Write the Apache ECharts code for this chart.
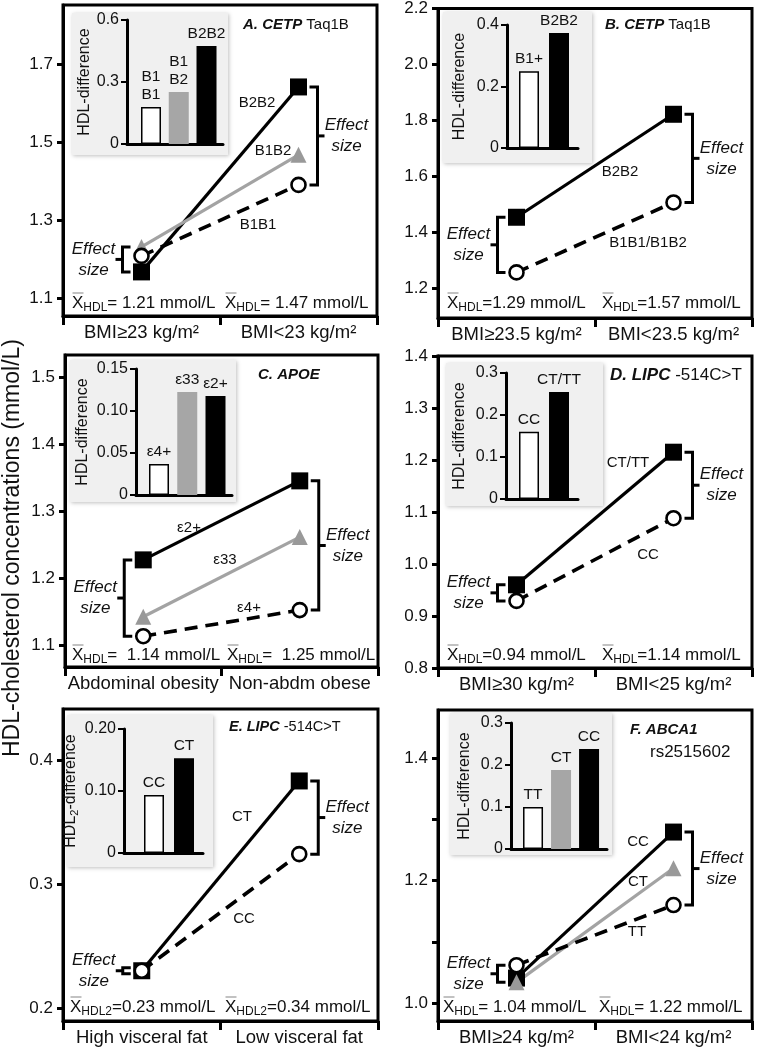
<!DOCTYPE html>
<html><head><meta charset="utf-8">
<script src="https://cdn.jsdelivr.net/npm/echarts@6/dist/echarts.min.js"></script>
<style>html,body{margin:0;padding:0;background:#fff}#c{width:757px;height:1050px}</style>
</head><body><div id="c"></div>
<script>
// ---------------- DATA ----------------
const catsA = ['BMI\u226523 kg/m\u00b2', 'BMI<23 kg/m\u00b2'];
const aB2B2 = [1.167, 1.641];
const aB1B2 = [1.231, 1.467];
const aB1B1 = [1.208, 1.390];
const aLineLabels = ['B2B2', 'B1B2', 'B1B1'];
const aInsetCats = ['B1\nB1', 'B1\nB2', 'B2B2'];
const aInsetVals = [0.179, 0.252, 0.474];
const aYTicks = [1.1, 1.3, 1.5, 1.7];
const aInsetTicks = [0, 0.3, 0.6];
const aMeans = ['= 1.21 mmol/L', '= 1.47 mmol/L'];

const catsB = ['BMI\u226523.5 kg/m\u00b2', 'BMI<23.5 kg/m\u00b2'];
const bB2B2 = [1.454, 1.822];
const bB1x = [1.257, 1.507];
const bLineLabels = ['B2B2', 'B1B1/B1B2'];
const bInsetCats = ['B1+', 'B2B2'];
const bInsetVals = [0.25, 0.374];
const bYTicks = [1.2, 1.4, 1.6, 1.8, 2.0, 2.2];
const bInsetTicks = [0, 0.2, 0.4];
const bMeans = ['=1.29 mmol/L', '=1.57 mmol/L'];

const catsC = ['Abdominal obesity', 'Non-abdm obese'];
const cE2 = [1.227, 1.345];
const cE33 = [1.142, 1.261];
const cE4 = [1.113, 1.152];
const cLineLabels = ['\u03b52+', '\u03b533', '\u03b54+'];
const cInsetCats = ['\u03b54+', '\u03b533', '\u03b52+'];
const cInsetVals = [0.037, 0.1226, 0.118];
const cYTicks = [1.1, 1.2, 1.3, 1.4, 1.5];
const cInsetTicks = [0, 0.05, 0.10, 0.15];
const cMeans = ['=  1.14 mmol/L', '=  1.25 mmol/L'];

const catsD = ['BMI\u226530 kg/m\u00b2', 'BMI<25 kg/m\u00b2'];
const dCTTT = [0.960, 1.215];
const dCC = [0.929, 1.088];
const dLineLabels = ['CT/TT', 'CC'];
const dInsetCats = ['CC', 'CT/TT'];
const dInsetVals = [0.16, 0.255];
const dYTicks = [0.8, 0.9, 1.0, 1.1, 1.2, 1.3, 1.4];
const dInsetTicks = [0, 0.1, 0.2, 0.3];
const dMeans = ['=0.94 mmol/L', '=1.14 mmol/L'];

const catsE = ['High visceral fat', 'Low visceral fat'];
const eCT = [0.230, 0.383];
const eCC = [0.230, 0.324];
const eLineLabels = ['CT', 'CC'];
const eInsetCats = ['CC', 'CT'];
const eInsetVals = [0.0935, 0.153];
const eYTicks = [0.2, 0.3, 0.4];
const eInsetTicks = [0, 0.10, 0.20];
const eMeans = ['=0.23 mmol/L', '=0.34 mmol/L'];

const catsF = ['BMI\u226524 kg/m\u00b2', 'BMI<24 kg/m\u00b2'];
const fCC = [1.041, 1.279];
const fCT = [1.034, 1.220];
const fTT = [1.062, 1.160];
const fLineLabels = ['CC', 'CT', 'TT'];
const fInsetCats = ['TT', 'CT', 'CC'];
const fInsetVals = [0.10, 0.188, 0.238];
const fYTicks = [1.0, 1.1, 1.2, 1.3, 1.4];
const fYLabels = [1.0, 1.2, 1.4];
const fInsetTicks = [0, 0.1, 0.2, 0.3];
const fMeans = ['= 1.04 mmol/L', '= 1.22 mmol/L'];

const yTitle = 'HDL-cholesterol concentrations (mmol/L)';

// ---------------- LAYOUT / STYLE ----------------
const FONT = '"Liberation Sans", Arial, Helvetica, sans-serif';
const INK = '#111';
const GRAY = '#a3a3a3';

const panels = [
  { title: ['A. CETP', ' Taq1B'], titlePos: [243, 25, 15],
    cats: catsA, grid: {left: 63, top: 5, width: 314, height: 311}, ymin: 1.054, ymax: 1.851,
    yticks: aYTicks, ylabels: aYTicks,
    groups: [{vals: aB2B2, kind: 'sq'}, {vals: aB1B2, kind: 'tri'}, {vals: aB1B1, kind: 'circ'}],
    lineLabels: aLineLabels, lineLabelPos: [[257, 103], [273, 151], [258, 225]],
    means: aMeans, meanSub: 'HDL', meanPos: [[72, 303], [225, 303]],
    inset: {grid: {left: 127, top: 20, width: 96, height: 124}, max: 0.6, ticks: aInsetTicks, dec: 1,
      xmin: 0.135, xmax: 3.594, cats: aInsetCats, vals: aInsetVals, kinds: ['w', 'g', 'k'],
      bg: [72, 13, 156, 142], name: 'HDL-difference', nameGap: 34}},
  { title: ['B. CETP', ' Taq1B'], titlePos: [605, 25, 15],
    cats: catsB, grid: {left: 438, top: 5, width: 314, height: 313}, ymin: 1.094, ymax: 2.2,
    yticks: bYTicks, ylabels: bYTicks,
    groups: [{vals: bB2B2, kind: 'sq'}, {vals: bB1x, kind: 'circ'}],
    lineLabels: bLineLabels, lineLabelPos: [[620, 172], [648, 243]],
    means: bMeans, meanSub: 'HDL', meanPos: [[447, 303], [602, 303]],
    inset: {grid: {left: 507, top: 25, width: 71, height: 123}, max: 0.4, ticks: bInsetTicks, dec: 1,
      xmin: 0.267, xmax: 2.633, cats: bInsetCats, vals: bInsetVals, kinds: ['w', 'k'],
      bg: [443, 12, 149, 151], name: 'HDL-difference', nameGap: 39}},
  { title: ['C. APOE', ''], titlePos: [258, 375, 15],
    cats: catsC, grid: {left: 65, top: 355, width: 313, height: 312}, ymin: 1.067, ymax: 1.533,
    yticks: cYTicks, ylabels: cYTicks,
    groups: [{vals: cE2, kind: 'sq'}, {vals: cE33, kind: 'tri'}, {vals: cE4, kind: 'circ'}],
    lineLabels: cLineLabels, lineLabelPos: [[189, 528], [225, 560], [249, 608]],
    means: cMeans, meanSub: 'HDL', meanPos: [[72, 655], [227, 655]],
    inset: {grid: {left: 136, top: 369, width: 96, height: 126}, max: 0.15, ticks: cInsetTicks, dec: 2,
      xmin: 0.186, xmax: 3.584, cats: cInsetCats, vals: cInsetVals, kinds: ['w', 'g', 'k'],
      bg: [70, 360, 166, 142], name: 'HDL-difference', nameGap: 45}},
  { title: ['D. LIPC', ' -514C>T'], titlePos: [610, 375, 17],
    cats: catsD, grid: {left: 438, top: 356, width: 314, height: 312}, ymin: 0.8, ymax: 1.4,
    yticks: dYTicks, ylabels: dYTicks,
    groups: [{vals: dCTTT, kind: 'sq'}, {vals: dCC, kind: 'circ'}],
    lineLabels: dLineLabels, lineLabelPos: [[628, 463], [648, 555]],
    means: dMeans, meanSub: 'HDL', meanPos: [[447, 655], [602, 655]],
    inset: {grid: {left: 506, top: 373, width: 72, height: 126}, max: 0.3, ticks: dInsetTicks, dec: 1,
      xmin: 0.233, xmax: 2.633, cats: dInsetCats, vals: dInsetVals, kinds: ['w', 'k'],
      bg: [446, 363, 157, 143], name: 'HDL-difference', nameGap: 38}},
  { title: ['E. LIPC', ' -514C>T'], titlePos: [229, 727, 14.5],
    cats: catsE, grid: {left: 63, top: 709, width: 315, height: 312}, ymin: 0.1895, ymax: 0.441,
    yticks: eYTicks, ylabels: eYTicks,
    groups: [{vals: eCT, kind: 'sq'}, {vals: eCC, kind: 'circ'}],
    lineLabels: eLineLabels, lineLabelPos: [[242, 817], [244, 919]],
    means: eMeans, meanSub: 'HDL2', meanPos: [[70, 1007], [225, 1007]],
    inset: {grid: {left: 124, top: 729, width: 79, height: 124}, max: 0.2, ticks: eInsetTicks, dec: 2,
      xmin: 0, xmax: 2.633, cats: eInsetCats, vals: eInsetVals, kinds: ['w', 'k'],
      bg: [67, 715, 146, 152], name: '{a|HDL}{s|2}{a|-difference}', nameGap: 37}},
  { title: ['F. ABCA1', ''], titlePos: [630, 730, 15], subtitle: ['rs2515602', 650, 752, 17],
    cats: catsF, grid: {left: 438, top: 710, width: 314, height: 311}, ymin: 0.971, ymax: 1.478,
    yticks: fYTicks, ylabels: fYLabels,
    groups: [{vals: fCC, kind: 'sq'}, {vals: fCT, kind: 'tri'}, {vals: fTT, kind: 'circ'}],
    lineLabels: fLineLabels, lineLabelPos: [[638, 842], [638, 882], [637, 932]],
    means: fMeans, meanSub: 'HDL', meanPos: [[443, 1007], [599, 1007]],
    inset: {grid: {left: 511, top: 723, width: 96, height: 126}, max: 0.3, ticks: fInsetTicks, dec: 1,
      xmin: 0.214, xmax: 3.64, cats: fInsetCats, vals: fInsetVals, kinds: ['w', 'g', 'k'],
      bg: [450, 713, 162, 142], name: 'HDL-difference', nameGap: 38}}
];

const lineStyles = {
  sq: {color: '#000', width: 3.2, type: 'solid', opacity: 1},
  tri: {color: GRAY, width: 3.2, type: 'solid', opacity: 1},
  circ: {color: '#000', width: 3.6, type: [13, 8], opacity: 1}
};
const markerStyles = {
  sq: {symbol: 'rect', size: 17, item: {color: '#000', opacity: 1}, z: 3},
  tri: {symbol: 'triangle', size: 16, item: {color: '#999', opacity: 1}, z: 4},
  circ: {symbol: 'circle', size: 14, item: {color: '#fff', borderColor: '#000', borderWidth: 2.6, opacity: 1}, z: 5}
};
const barStyles = {
  w: {color: '#fff', borderColor: '#000', borderWidth: 1.5},
  g: {color: '#a6a6a6'},
  k: {color: '#000'}
};

function bracketRender(params, api) {
  const cat = api.value(0), lo = api.value(1), hi = api.value(2), side = api.value(3);
  const pLo = api.coord([cat, lo]), pHi = api.coord([cat, hi]);
  const x = pLo[0] + side * 19;
  let yLo = pLo[1], yHi = pHi[1];
  if (yLo - yHi < 6) { const m = (yLo + yHi) / 2; yLo = m + 3; yHi = m - 3; }
  const ym = (yLo + yHi) / 2;
  return {type: 'group', children: [
    {type: 'polyline', shape: {points: [[x - side * 8, yHi], [x, yHi], [x, yLo], [x - side * 8, yLo]]},
      style: {stroke: '#000', lineWidth: 3, fill: null}},
    {type: 'line', shape: {x1: x, y1: ym, x2: x + side * 7, y2: ym}, style: {stroke: '#000', lineWidth: 3}},
    {type: 'text', x: x + side * 29, y: ym,
      style: {text: 'Effect\nsize', fontSize: 17, fontStyle: 'italic', fontFamily: FONT, lineHeight: 21,
        align: 'center', verticalAlign: 'middle', fill: INK}}
  ]};
}

const grid = [], xAxis = [], yAxis = [], series = [], graphic = [];

panels.forEach((p, pi) => {
  const gi = grid.length;
  grid.push(Object.assign({show: true, borderColor: '#000', borderWidth: 3, backgroundColor: 'transparent', z: 0}, p.grid));
  xAxis.push({type: 'category', gridIndex: gi, data: p.cats, boundaryGap: true,
    axisLine: {show: true, onZero: false, lineStyle: {color: '#000', width: 3}},
    axisTick: {show: true, length: 9, interval: 0, lineStyle: {color: '#000', width: 3}},
    axisLabel: {fontSize: 18.5, color: INK, fontFamily: FONT, margin: 7, interval: 0, hideOverlap: false},
    splitLine: {show: false}});
  yAxis.push({type: 'value', gridIndex: gi, min: p.ymin, max: p.ymax,
    axisLine: {show: true, onZero: false, lineStyle: {color: '#000', width: 3}},
    axisTick: {show: true, length: 6, customValues: p.yticks, lineStyle: {color: '#000', width: 3}},
    axisLabel: {fontSize: 17, color: INK, fontFamily: FONT, margin: 10, customValues: p.ylabels,
      formatter: v => Number(v).toFixed(1)},
    splitLine: {show: false}});

  p.groups.forEach(g => {
    const ls = lineStyles[g.kind];
    series.push({type: 'line', xAxisIndex: gi, yAxisIndex: gi, data: g.vals, symbol: 'none', silent: true,
      lineStyle: ls, z: 2, animation: false});
  });
  ['sq', 'tri', 'circ'].forEach(k => {
    p.groups.filter(g => g.kind === k).forEach(g => {
      const ms = markerStyles[k];
      series.push({type: 'scatter', xAxisIndex: gi, yAxisIndex: gi, data: g.vals.map((v, i) => [i, v]),
        symbol: ms.symbol, symbolSize: ms.size, itemStyle: ms.item, z: ms.z, silent: true, animation: false});
    });
  });
  const bdata = [0, 1].map(i => {
    const vs = p.groups.map(g => g.vals[i]);
    return [i, Math.min.apply(null, vs), Math.max.apply(null, vs), i === 0 ? -1 : 1];
  });
  series.push({type: 'custom', xAxisIndex: gi, yAxisIndex: gi, data: bdata, renderItem: bracketRender,
    z: 6, silent: true, animation: false, clip: false});

  const ins = p.inset;
  const ii = grid.length;
  grid.push(Object.assign({show: false, z: 3}, ins.grid));
  xAxis.push({type: 'value', gridIndex: ii, min: ins.xmin, max: ins.xmax, z: 3,
    axisLine: {show: true, onZero: false, lineStyle: {color: '#000', width: 3}},
    axisTick: {show: false}, axisLabel: {show: false}, splitLine: {show: false}});
  yAxis.push({type: 'value', gridIndex: ii, min: 0, max: ins.max, z: 3,
    axisLine: {show: true, onZero: false, lineStyle: {color: '#000', width: 3}},
    axisTick: {show: true, length: 6, customValues: ins.ticks, lineStyle: {color: '#000', width: 2}},
    axisLabel: {fontSize: 16, color: INK, fontFamily: FONT, margin: 8, customValues: ins.ticks,
      formatter: v => (Math.abs(v) < 1e-9 ? '0' : Number(v).toFixed(ins.dec))},
    splitLine: {show: false},
    name: ins.name, nameLocation: 'middle', nameGap: ins.nameGap,
    nameTextStyle: {fontSize: 16, color: INK, fontFamily: FONT,
      rich: {a: {fontSize: 16, fontFamily: FONT, color: INK}, s: {fontSize: 11, fontFamily: FONT, color: INK, padding: [9, 0, 0, 0]}}}});
  series.push({type: 'bar', xAxisIndex: ii, yAxisIndex: ii, barWidth: 20, z: 4, silent: true, animation: false,
    data: ins.vals.map((v, i) => ({value: [i + 1, v], itemStyle: barStyles[ins.kinds[i]]})),
    label: {show: true, position: 'top', distance: 3, fontSize: 15.5, lineHeight: 18, color: INK, fontFamily: FONT,
      formatter: prm => ins.cats[prm.dataIndex]}});
  graphic.push({type: 'rect', z: 2, shape: {x: ins.bg[0], y: ins.bg[1], width: ins.bg[2], height: ins.bg[3]},
    style: {fill: '#f0f0f0', shadowBlur: 4, shadowColor: 'rgba(0,0,0,0.25)', shadowOffsetX: 1, shadowOffsetY: 1}});

  graphic.push({type: 'text', z: 5, x: p.titlePos[0], y: p.titlePos[1],
    style: {text: '{b|' + p.title[0] + '}' + (p.title[1] ? '{n|' + p.title[1] + '}' : ''),
      verticalAlign: 'middle', align: 'left',
      rich: {b: {fontSize: p.titlePos[2], fontWeight: 'bold', fontStyle: 'italic', fontFamily: FONT, fill: INK},
             n: {fontSize: p.titlePos[2], fontFamily: FONT, fill: INK}}}});
  if (p.subtitle) {
    graphic.push({type: 'text', z: 5, x: p.subtitle[1], y: p.subtitle[2],
      style: {text: p.subtitle[0], fontSize: p.subtitle[3], fontFamily: FONT, fill: INK, align: 'left', verticalAlign: 'middle'}});
  }
  p.lineLabels.forEach((t, i) => {
    graphic.push({type: 'text', z: 5, x: p.lineLabelPos[i][0], y: p.lineLabelPos[i][1],
      style: {text: t, fontSize: 15, fontFamily: FONT, fill: INK, align: 'center', verticalAlign: 'middle'}});
  });
  p.means.forEach((t, i) => {
    const x = p.meanPos[i][0], y = p.meanPos[i][1];
    graphic.push({type: 'text', z: 5, x: x, y: y,
      style: {text: '{x|X}{s|' + p.meanSub + '}{t|' + t + '}', align: 'left', verticalAlign: 'middle',
        rich: {x: {fontSize: 17, fontFamily: FONT, fill: INK},
               s: {fontSize: 12, fontFamily: FONT, fill: INK, padding: [10, 0, 0, 0]},
               t: {fontSize: 17, fontFamily: FONT, fill: INK}}}});
    graphic.push({type: 'line', z: 5, shape: {x1: x + 0.5, y1: y - 10, x2: x + 11.5, y2: y - 10},
      style: {stroke: '#999', lineWidth: 1.2}});
  });
});

graphic.push({type: 'text', z: 5, x: 13, y: 548, rotation: Math.PI / 2,
  style: {text: yTitle, fontSize: 23, fontFamily: FONT, fill: INK, align: 'center', verticalAlign: 'middle'}});

const chart = echarts.init(document.getElementById('c'), null, {renderer: 'canvas'});
chart.setOption({animation: false, grid, xAxis, yAxis, series, graphic});
</script></body></html>
